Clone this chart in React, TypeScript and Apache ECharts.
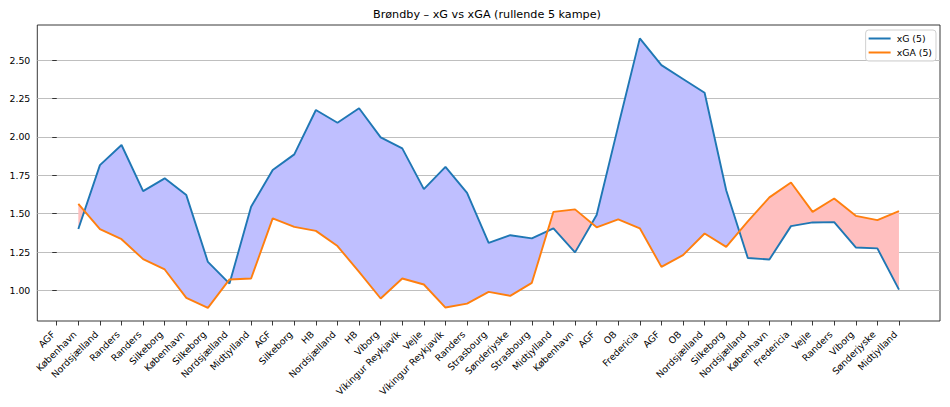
import React, { useEffect, useRef } from "react";
import * as echarts from "echarts";

const categories = [
  "AGF", "København", "Nordsjælland", "Randers", "Randers", "Silkeborg", "København", "Silkeborg",
  "Nordsjælland", "Midtjylland", "AGF", "Silkeborg", "HB", "Nordsjælland", "HB", "Viborg",
  "Víkingur Reykjavík", "Vejle", "Víkingur Reykjavík", "Randers", "Strasbourg", "Sønderjyske",
  "Strasbourg", "Midtjylland", "København", "AGF", "OB", "Fredericia", "AGF", "OB", "Nordsjælland",
  "Silkeborg", "Nordsjælland", "København", "Fredericia", "Vejle", "Randers", "Viborg",
  "Sønderjyske", "Midtjylland",
];

const xGValues: (number | null)[] = [
  null, 1.40, 1.816, 1.947, 1.647, 1.730, 1.621, 1.186, 1.045, 1.545,
  1.784, 1.886, 2.175, 2.092, 2.186, 1.997, 1.925, 1.660, 1.805, 1.636,
  1.310, 1.360, 1.339, 1.404, 1.248, 1.491, 2.070, 2.641, 2.467, 2.377,
  2.287, 1.653, 1.212, 1.202, 1.419, 1.443, 1.445, 1.280, 1.274, 1.006,
];

const xGAValues: (number | null)[] = [
  null, 1.564, 1.399, 1.334, 1.204, 1.137, 0.952, 0.887, 1.072, 1.078,
  1.469, 1.414, 1.388, 1.289, 1.121, 0.948, 1.078, 1.039, 0.889, 0.915,
  0.991, 0.965, 1.050, 1.512, 1.528, 1.411, 1.463, 1.405, 1.154, 1.230,
  1.371, 1.284, 1.450, 1.606, 1.703, 1.512, 1.599, 1.486, 1.458, 1.517,
];

const yTicks = [1.0, 1.25, 1.5, 1.75, 2.0, 2.25, 2.5];

const FONT = "DejaVu Sans";

type Region = { pos: boolean; pts: number[][] };

function buildRegions(xs: number[], a: number[], b: number[]): Region[] {
  const out: Region[] = [];
  let cur: { pos: boolean; top: number[][]; bot: number[][] } | null = null;
  for (let k = 0; k < xs.length; k++) {
    const d = a[k] - b[k];
    const pos = d >= 0;
    if (!cur) {
      cur = { pos, top: [[xs[k], a[k]]], bot: [[xs[k], b[k]]] };
      continue;
    }
    if (pos !== cur.pos) {
      const dPrev = a[k - 1] - b[k - 1];
      const t = dPrev / (dPrev - d);
      const cx = xs[k - 1] + t * (xs[k] - xs[k - 1]);
      const cy = a[k - 1] + t * (a[k] - a[k - 1]);
      cur.top.push([cx, cy]);
      cur.bot.push([cx, cy]);
      out.push({ pos: cur.pos, pts: [...cur.top, ...cur.bot.reverse()] });
      cur = { pos, top: [[cx, cy]], bot: [[cx, cy]] };
    }
    cur.top.push([xs[k], a[k]]);
    cur.bot.push([xs[k], b[k]]);
  }
  if (cur) out.push({ pos: cur.pos, pts: [...cur.top, ...cur.bot.reverse()] });
  return out;
}

export default function App() {
  const ref = useRef<HTMLDivElement>(null);

  useEffect(() => {
    const chart = echarts.init(ref.current!, null, { renderer: "svg" });

    const idx: number[] = [];
    const a: number[] = [];
    const b: number[] = [];
    xGValues.forEach((v, i) => {
      if (v != null && xGAValues[i] != null) {
        idx.push(i);
        a.push(v);
        b.push(xGAValues[i] as number);
      }
    });
    const regions = buildRegions(idx, a, b);

    const tickIdx = categories.map((_, i) => i);

    chart.setOption({
      animation: false,
      backgroundColor: "#ffffff",
      title: {
        text: "Brøndby – xG vs xGA (rullende 5 kampe)",
        left: 373,
        top: 9,
        padding: 0,
        textStyle: { fontFamily: FONT, fontSize: 11.2, fontWeight: "normal", color: "#000" },
      },
      legend: {
        orient: "vertical",
        right: 14,
        top: 30,
        padding: [3, 4, 3, 3],
        itemGap: 3,
        itemWidth: 22,
        itemHeight: 2,
        icon: "rect",
        backgroundColor: "rgba(255,255,255,0.8)",
        borderColor: "#d0d0d0",
        borderWidth: 1,
        borderRadius: 3,
        textStyle: { fontFamily: FONT, fontSize: 9.35, color: "#000", lineHeight: 11, padding: [0, 0, 0, 1] },
        data: ["xG (5)", "xGA (5)"],
      },
      grid: {
        left: 37.3,
        right: 10,
        top: 25,
        bottom: 86,
        show: true,
        borderColor: "#222",
        borderWidth: 0.9,
        backgroundColor: "transparent",
        containLabel: false,
        outerBoundsMode: "none",
      },
      xAxis: {
        type: "value",
        min: -0.9,
        max: 40.9,
        axisLine: { show: false },
        splitLine: { show: false },
        axisTick: {
          show: true,
          length: 4.5,
          customValues: tickIdx,
          lineStyle: { color: "#222", width: 0.9 },
        },
        axisLabel: {
          customValues: tickIdx,
          rotate: 45,
          margin: 8,
          padding: [0, 5, 0, 0],
          fontFamily: FONT,
          fontSize: 9.35,
          color: "#000",
          formatter: (v: number) => categories[Math.round(v)] ?? "",
        },
      },
      yAxis: {
        type: "value",
        min: 0.8015,
        max: 2.728,
        axisLine: { show: false },
        axisTick: {
          show: true,
          length: 4.5,
          customValues: yTicks,
          lineStyle: { color: "#222", width: 0.9 },
        },
        axisLabel: {
          customValues: yTicks,
          margin: 7,
          fontFamily: FONT,
          fontSize: 9.35,
          color: "#000",
          formatter: (v: number) => v.toFixed(2),
        },
        splitLine: { show: true, lineStyle: { color: "#b8b8b8", width: 0.9 } },
      },
      series: [
        {
          type: "custom",
          name: "fill",
          z: 1,
          silent: true,
          data: regions.map((r, k) => [r.pts[0][0], r.pts[0][1], k]),
          renderItem: (params: any, api: any) => {
            const r = regions[params.dataIndex];
            return {
              type: "polygon",
              shape: { points: r.pts.map((p) => api.coord(p)) },
              style: { fill: r.pos ? "#bfbfff" : "#ffbfbf", stroke: null },
            };
          },
        },
        {
          type: "line",
          name: "xG (5)",
          z: 3,
          symbol: "none",
          color: "#1f77b4",
          lineStyle: { width: 1.9, color: "#1f77b4" },
          data: idx.map((i, k) => [i, a[k]]),
        },
        {
          type: "line",
          name: "xGA (5)",
          z: 3,
          symbol: "none",
          color: "#ff7f0e",
          lineStyle: { width: 1.9, color: "#ff7f0e" },
          data: idx.map((i, k) => [i, b[k]]),
        },
      ],
    });

    return () => chart.dispose();
  }, []);

  return (
    <div
      ref={ref}
      style={{ position: "fixed", left: 0, top: 0, width: 950, height: 407 }}
    />
  );
}
